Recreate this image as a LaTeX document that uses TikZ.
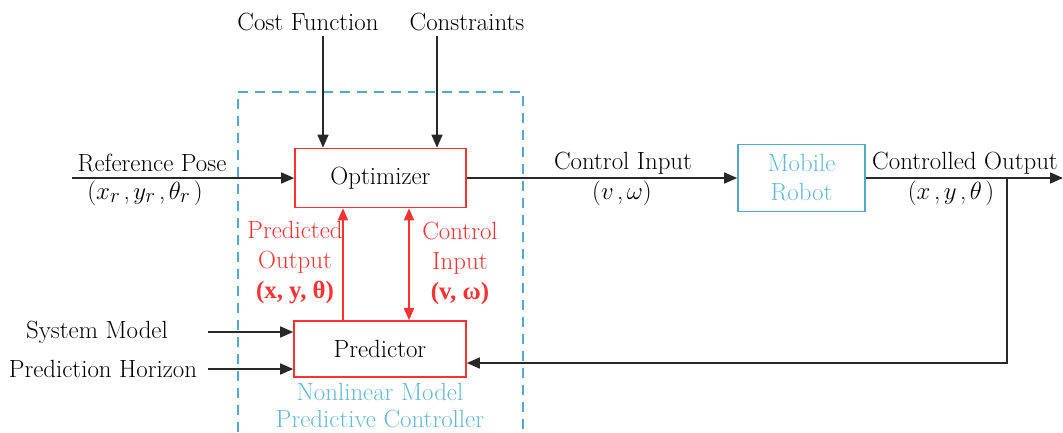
\documentclass[tikz,border=0pt]{standalone}
\usepackage{fontspec}
\newfontfamily\libs{Liberation Serif}
\usetikzlibrary{arrows.meta,calc}
\definecolor{myred}{RGB}{250,50,50}
\definecolor{mycyan}{RGB}{80,170,200}
\definecolor{robotblue}{RGB}{100,185,212}
\definecolor{lineg}{RGB}{40,40,40}
\newcommand{\gapsp}{\hspace{3.5pt}}
\tikzset{
  txt/.style={font=\fontsize{24.88}{30}\selectfont, inner sep=0pt, align=center},
  redbox/.style={draw=myred, line width=1.6pt, fill=white, font=\fontsize{24.88}{30}\selectfont, inner sep=0pt},
  bluebox/.style={draw=mycyan, line width=1.6pt, font=\fontsize{24.88}{29}\selectfont, text=robotblue, align=center, inner sep=0pt},
  arr/.style={draw=lineg, line width=1.5pt, -{Triangle[length=13pt,width=11pt]}},
  redarr/.style={draw=myred, line width=1.5pt, -{Triangle[length=12pt,width=10pt]}},
  redarrb/.style={draw=myred, line width=1.5pt, {Triangle[length=12pt,width=10pt]}-{Triangle[length=12pt,width=10pt]}},
  dashbox/.style={draw=mycyan, line width=1.5pt, dash pattern=on 10pt off 7pt}
}
\begin{document}
\begin{tikzpicture}[x=1pt,y=-1pt]
\useasboundingbox (0,0) rectangle (1063,432);
% dashed controller box
\draw[dashbox] (238,432) -- (238,92) -- (523,92) -- (523,432);
% blocks
\node[redbox, minimum width=171pt, minimum height=59pt] (opt) at (380.5,178) {Optimizer};
\node[redbox, minimum width=172pt, minimum height=56pt] (pred) at (380,349) {Predictor};
\node[bluebox, minimum width=127pt, minimum height=67pt] (robot) at (801.5,178) {Mobile\\Robot};
% top inputs
\node[txt] (cf) at (308,22) {Cost Function};
\node[txt] (cons) at (467,22) {Constraints};
\coordinate (cfx) at (323,36);
\coordinate (consx) at (437,36);
\draw[arr] (cfx) -- (opt.north -| cfx);
\draw[arr] (consx) -- (opt.north -| consx);
% reference pose
\coordinate (refstart) at (72,178);
\node[txt] (reflab) at (152,163) {Reference Pose};
\node[txt] (refvar) at (145,193) {($x_r$\gapsp,\gapsp$y_r$\gapsp,\gapsp$\theta_r$\gapsp)};
\draw[arr] (refstart) -- (opt.west);
% control input
\node[txt] (cilab) at (623,163) {Control Input};
\node[txt] (civar) at (622,193) {($v$\gapsp,\gapsp$\omega$)};
\draw[arr] (opt.east) -- (robot.west);
% controlled output
\coordinate (outend) at (1063,178);
\node[txt] (colab) at (965,163) {Controlled Output};
\node[txt] (covar) at (951,193) {($x$\gapsp,\gapsp$y$\gapsp,\gapsp$\theta$\gapsp)};
\draw[arr] (robot.east) -- (outend);
% feedback
\coordinate (fb) at (1007,178);
\coordinate (fbc) at (1007,363);
\draw[arr] (fb) -- (fbc) -- (pred.east |- fbc);
% left inputs to predictor
\coordinate (sm) at (208,332);
\coordinate (ph) at (208,369);
\node[txt] (smlab) at (97,332) {System Model};
\node[txt] (phlab) at (103,369) {Prediction Horizon};
\draw[arr] (sm) -- (pred.west |- sm);
\draw[arr] (ph) -- (pred.west |- ph);
% red internal arrows
\coordinate (pox) at (343,0);
\coordinate (cix) at (409,0);
\draw[redarr] (pred.north -| pox) -- (opt.south -| pox);
\draw[redarrb] (pred.north -| cix) -- (opt.south -| cix);
\node[txt, text=myred] (polab) at (295,263) {Predicted\\Output\\{\libs\bfseries (x, y, θ)}};
\node[txt, text=myred] (cilab2) at (460,263) {Control\\Input\\{\libs\bfseries (v, ω)}};
% controller label
\node[txt, text=robotblue, font=\fontsize{24.88}{27}\selectfont] (nmpc) at (380,406) {Nonlinear Model\\Predictive Controller};
\end{tikzpicture}
\end{document}
